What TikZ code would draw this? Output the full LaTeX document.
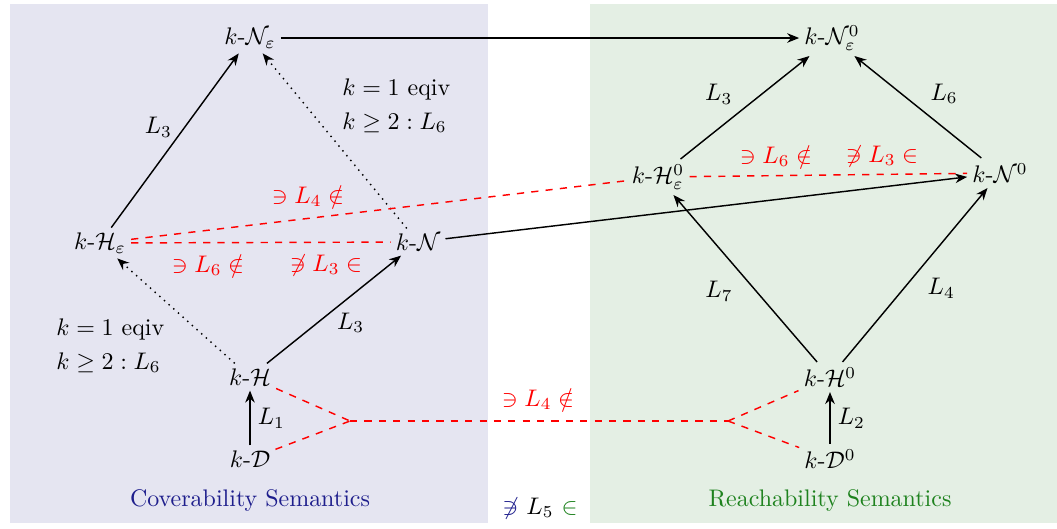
\documentclass[tikz,border=0pt]{standalone}
\usepackage{amsmath,amssymb}
\usetikzlibrary{arrows.meta}
\definecolor{covbg}{RGB}{229,229,241}
\definecolor{reabg}{RGB}{228,239,228}
\definecolor{covtext}{RGB}{30,30,140}
\definecolor{reatext}{RGB}{30,130,30}
\tikzset{
  st/.style={inner sep=2pt},
  arr/.style={-{Stealth[length=5pt,width=4pt]}, semithick},
  dotarr/.style={-{Stealth[length=5pt,width=4pt]}, dotted, semithick},
  rdash/.style={red, dashed, semithick},
  lab/.style={inner sep=1pt},
  rlab/.style={red, inner sep=1pt},
}
\begin{document}
\begin{tikzpicture}[x=0.417pt,y=-0.417pt]
\useasboundingbox (0,0) rectangle (1057,528);
\fill[covbg] (10,4) rectangle (488,523);
\fill[reabg] (590,4) rectangle (1057,523);

\node[st] (Ne) at (250,38) {$k\text{-}\mathcal{N}_\varepsilon$};
\node[st] (Ne0) at (832,38) {$k\text{-}\mathcal{N}^0_\varepsilon$};
\node[st] (He) at (100,243) {$k\text{-}\mathcal{H}_\varepsilon$};
\node[st] (N) at (418,242) {$k\text{-}\mathcal{N}$};
\node[st] (H) at (250,377) {$k\text{-}\mathcal{H}$};
\node[st] (D) at (250,459) {$k\text{-}\mathcal{D}$};
\node[st] (He0) at (658,177) {$k\text{-}\mathcal{H}^0_\varepsilon$};
\node[st] (N0) at (1000,173) {$k\text{-}\mathcal{N}^0$};
\node[st] (H0) at (830,377) {$k\text{-}\mathcal{H}^0$};
\node[st] (D0) at (830,459) {$k\text{-}\mathcal{D}^0$};

\coordinate (J1) at (350,421);
\coordinate (J2) at (728,421);

\draw[arr] (Ne) -- (Ne0);
\draw[arr] (He) -- node[lab, above left] {$L_3$} (Ne);
\draw[dotarr] (N) -- (Ne);
\draw[dotarr] (H) -- (He);
\draw[arr] (H) -- node[lab, below right] {$L_3$} (N);
\draw[arr] (D) -- node[lab, right, xshift=2pt] {$L_1$} (H);
\draw[arr] (N) -- (N0);
\draw[arr] (He0) -- node[lab, above left, xshift=-4pt] {$L_3$} (Ne0);
\draw[arr] (N0) -- node[lab, above right, xshift=4pt] {$L_6$} (Ne0);
\draw[arr] (H0) -- node[lab, below left, xshift=-4pt] {$L_7$} (He0);
\draw[arr] (H0) -- node[lab, below right, xshift=4pt] {$L_4$} (N0);
\draw[arr] (D0) -- node[lab, right, xshift=2pt] {$L_2$} (H0);

\draw[rdash] (He) -- (N);
\draw[rdash] (He) -- (He0);
\draw[rdash] (He0) -- (N0);
\draw[rdash] (H) -- (J1);
\draw[rdash] (D) -- (J1);
\draw[rdash] (J1) -- (J2);
\draw[rdash] (J2) -- (H0);
\draw[rdash] (J2) -- (D0);

\node[rlab] (r1) at (308,196) {$\ni L_4 \notin$};
\node[rlab] (r2) at (208,265) {$\ni L_6 \notin$};
\node[rlab] (r3) at (326,265) {$\not\ni L_3 \in$};
\node[rlab] (r4) at (776,156) {$\ni L_6 \notin$};
\node[rlab] (r5) at (882,156) {$\not\ni L_3 \in$};
\node[rlab] (r6) at (538,399) {$\ni L_4 \notin$};

\node[anchor=west, align=left, inner sep=0pt] (t1) at (342,106) {$k=1$ eqiv\\[2pt]$k\geq 2: L_6$};
\node[anchor=west, align=left, inner sep=0pt] (t2) at (56,346) {$k=1$ eqiv\\[2pt]$k\geq 2: L_6$};

\node[covtext] (cs) at (250,500) {Coverability Semantics};
\node[reatext] (rs) at (830,500) {Reachability Semantics};
\node (l5) at (540,508) {$\textcolor{covtext}{\not\ni}\ L_5\ \textcolor{reatext}{\in}$};
\end{tikzpicture}
\end{document}
